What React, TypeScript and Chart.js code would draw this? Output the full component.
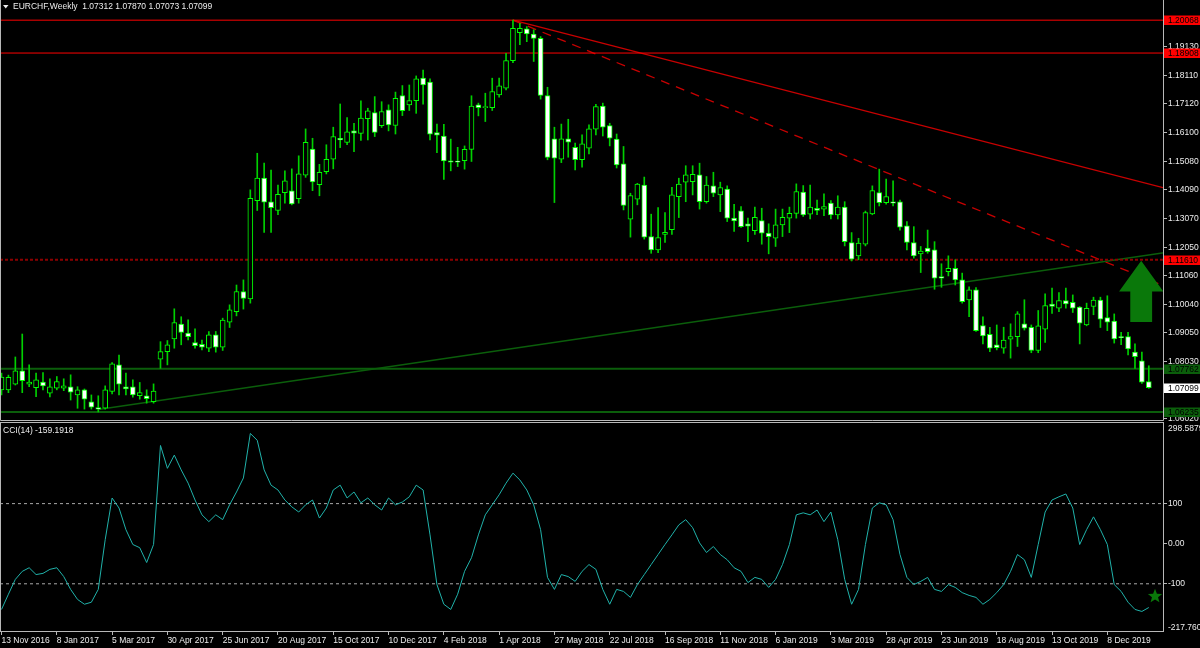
import { useEffect, useRef } from 'react';
import { Chart, registerables } from 'chart.js';

Chart.register(...registerables);

// ---------------- data ----------------
const SYMBOL = 'EURCHF,Weekly';

const OPEN = [
  1.0702, 1.0702, 1.0722, 1.0769, 1.0722, 1.0710, 1.0729, 1.0690, 1.0708, 1.0708,
  1.0713, 1.0684, 1.0702, 1.0660, 1.0639, 1.0637, 1.0696, 1.0790, 1.0713, 1.0713,
  1.0681, 1.0681, 1.0660, 1.0810, 1.0837, 1.0882, 1.0934, 1.0902, 1.0869, 1.0863,
  1.0849, 1.0896, 1.0853, 1.0941, 1.0978, 1.1049, 1.1023, 1.1370, 1.1449, 1.1366,
  1.1335, 1.1398, 1.1404, 1.1377, 1.1460, 1.1552, 1.1426, 1.1472, 1.1516, 1.1590,
  1.1575, 1.1616, 1.1607, 1.1659, 1.1681, 1.1634, 1.1690, 1.1635, 1.1741, 1.1708,
  1.1723, 1.1802, 1.1788, 1.1610, 1.1598, 1.1510, 1.1509, 1.1511, 1.1551, 1.1708,
  1.1698, 1.1698, 1.1743, 1.1767, 1.1864, 1.1963, 1.1976, 1.1958, 1.1943, 1.1741,
  1.1588, 1.1516, 1.1588, 1.1558, 1.1514, 1.1555, 1.1622, 1.1704, 1.1635, 1.1587,
  1.1500, 1.1304, 1.1375, 1.1425, 1.1243, 1.1196, 1.1251, 1.1267, 1.1384, 1.1435,
  1.1437, 1.1461, 1.1366, 1.1422, 1.1390, 1.1411, 1.1308, 1.1334, 1.1288, 1.1264,
  1.1299, 1.1255, 1.1237, 1.1284, 1.1308, 1.1325, 1.1400, 1.1322, 1.1343, 1.1340,
  1.1361, 1.1319, 1.1347, 1.1222, 1.1175, 1.1216, 1.1323, 1.1398, 1.1363, 1.1366,
  1.1366, 1.1281, 1.1222, 1.1182, 1.1202, 1.1196, 1.1102, 1.1119, 1.1131, 1.1090,
  1.1019, 1.1055, 1.0929, 1.0898, 1.0861, 1.0849, 1.0881, 1.0890, 1.0935, 1.0923,
  1.0841, 1.0916, 1.1005, 1.0990, 1.1017, 1.1011, 1.0994, 1.0931, 1.0996, 1.1019,
  1.0957, 1.0945, 1.0890, 1.0890, 1.0835, 1.0804, 1.07312,
];
const HIGH = [
  1.0761, 1.0754, 1.0818, 1.0899, 1.0790, 1.0761, 1.0763, 1.0741, 1.0749, 1.0741,
  1.0755, 1.0713, 1.0705, 1.0684, 1.0681, 1.0716, 1.0798, 1.0825, 1.0761, 1.0737,
  1.0728, 1.0702, 1.0723, 1.0872, 1.0876, 1.0988, 1.0960, 1.0949, 1.0917, 1.0878,
  1.0908, 1.0908, 1.0955, 1.1002, 1.1072, 1.1090, 1.1408, 1.1537, 1.1502, 1.1478,
  1.1425, 1.1475, 1.1482, 1.1528, 1.1623, 1.1590, 1.1498, 1.1567, 1.1629, 1.1711,
  1.1663, 1.1643, 1.1722, 1.1696, 1.1737, 1.1719, 1.1708, 1.1753, 1.1776, 1.1778,
  1.1810, 1.1831, 1.1800, 1.1640, 1.1639, 1.1587, 1.1558, 1.1563, 1.1740, 1.1714,
  1.1749, 1.1802, 1.1802, 1.1890, 1.2007, 1.1996, 1.1984, 1.1973, 1.1949, 1.1770,
  1.1629, 1.1640, 1.1657, 1.1573, 1.1602, 1.1637, 1.1710, 1.1714, 1.1643, 1.1605,
  1.1561, 1.1396, 1.1431, 1.1453, 1.1322, 1.1345, 1.1328, 1.1417, 1.1449, 1.1493,
  1.1493, 1.1502, 1.1455, 1.1470, 1.1435, 1.1422, 1.1357, 1.1349, 1.1308, 1.1347,
  1.1343, 1.1288, 1.1340, 1.1340, 1.1347, 1.1429, 1.1423, 1.1425, 1.1372, 1.1394,
  1.1370, 1.1387, 1.1366, 1.1257, 1.1237, 1.1333, 1.1422, 1.1481, 1.1446, 1.1440,
  1.1372, 1.1296, 1.1278, 1.1208, 1.1266, 1.1225, 1.1147, 1.1175, 1.1161, 1.1114,
  1.1066, 1.1063, 1.0960, 1.0923, 1.0931, 1.0923, 1.0935, 1.0978, 1.1020, 1.0931,
  1.0982, 1.1041, 1.1061, 1.1045, 1.1061, 1.1037, 1.0996, 1.1008, 1.1029, 1.1029,
  1.1034, 1.0970, 1.0905, 1.0905, 1.0864, 1.0835, 1.07870,
];
const LOW = [
  1.0684, 1.0692, 1.0719, 1.0692, 1.0713, 1.0678, 1.0702, 1.0677, 1.0702, 1.0699,
  1.0666, 1.0637, 1.0634, 1.0634, 1.0624, 1.0634, 1.0688, 1.0684, 1.0684, 1.0676,
  1.0669, 1.0655, 1.0655, 1.0778, 1.0790, 1.0849, 1.0861, 1.0878, 1.0849, 1.0843,
  1.0837, 1.0835, 1.0841, 1.0922, 1.0963, 1.0987, 1.1008, 1.1335, 1.1258, 1.1258,
  1.1320, 1.1361, 1.1355, 1.1361, 1.1452, 1.1405, 1.1387, 1.1464, 1.1482, 1.1557,
  1.1567, 1.1543, 1.1582, 1.1584, 1.1596, 1.1628, 1.1616, 1.1605, 1.1670, 1.1688,
  1.1678, 1.1710, 1.1584, 1.1539, 1.1445, 1.1475, 1.1490, 1.1481, 1.1508, 1.1669,
  1.1649, 1.1688, 1.1735, 1.1761, 1.1857, 1.1920, 1.1931, 1.1861, 1.1728, 1.1514,
  1.1363, 1.1504, 1.1523, 1.1478, 1.1488, 1.1535, 1.1602, 1.1598, 1.1563, 1.1485,
  1.1337, 1.1241, 1.1355, 1.1234, 1.1184, 1.1186, 1.1222, 1.1251, 1.1310, 1.1366,
  1.1390, 1.1340, 1.1361, 1.1384, 1.1331, 1.1296, 1.1261, 1.1275, 1.1225, 1.1251,
  1.1216, 1.1182, 1.1208, 1.1243, 1.1257, 1.1308, 1.1314, 1.1305, 1.1320, 1.1317,
  1.1305, 1.1305, 1.1210, 1.1157, 1.1161, 1.1210, 1.1320, 1.1351, 1.1357, 1.1351,
  1.1266, 1.1196, 1.1167, 1.1116, 1.1184, 1.1057, 1.1064, 1.1104, 1.1072, 1.1008,
  1.0960, 1.0908, 1.0864, 1.0837, 1.0843, 1.0831, 1.0814, 1.0855, 1.0913, 1.0833,
  1.0833, 1.0869, 1.0972, 1.0978, 1.0990, 1.0975, 1.0864, 1.0928, 1.0967, 1.0922,
  1.0911, 1.0867, 1.0861, 1.0825, 1.0778, 1.0725, 1.07073,
];
const CLOSE = [
  1.0747, 1.0746, 1.0769, 1.0734, 1.0729, 1.0737, 1.0716, 1.0713, 1.0731, 1.0716,
  1.0694, 1.0702, 1.0669, 1.0641, 1.0634, 1.0702, 1.0794, 1.0722, 1.0705, 1.0684,
  1.0692, 1.0671, 1.0698, 1.0837, 1.0861, 1.0939, 1.0905, 1.0890, 1.0858, 1.0853,
  1.0896, 1.0853, 1.0948, 1.0984, 1.1049, 1.1025, 1.1378, 1.1449, 1.1364, 1.1345,
  1.1392, 1.1440, 1.1358, 1.1464, 1.1576, 1.1436, 1.1470, 1.1516, 1.1596, 1.1584,
  1.1613, 1.1608, 1.1661, 1.1687, 1.1611, 1.1684, 1.1637, 1.1731, 1.1687, 1.1723,
  1.1800, 1.1778, 1.1604, 1.1601, 1.1510, 1.1506, 1.1506, 1.1551, 1.1704, 1.1698,
  1.1702, 1.1755, 1.1775, 1.1864, 1.1978, 1.1978, 1.1958, 1.1942, 1.1741, 1.1522,
  1.1520, 1.1588, 1.1576, 1.1514, 1.1570, 1.1623, 1.1702, 1.1629, 1.1590, 1.1496,
  1.1353, 1.1388, 1.1428, 1.1241, 1.1196, 1.1239, 1.1258, 1.1390, 1.1428, 1.1461,
  1.1463, 1.1366, 1.1425, 1.1396, 1.1416, 1.1308, 1.1298, 1.1278, 1.1280, 1.1311,
  1.1255, 1.1243, 1.1284, 1.1311, 1.1325, 1.1402, 1.1319, 1.1347, 1.1335, 1.1349,
  1.1319, 1.1347, 1.1225, 1.1163, 1.1220, 1.1328, 1.1405, 1.1363, 1.1384, 1.1361,
  1.1276, 1.1222, 1.1175, 1.1192, 1.1190, 1.1096, 1.1096, 1.1131, 1.1090, 1.1013,
  1.1055, 1.0911, 1.0892, 1.0849, 1.0851, 1.0878, 1.0890, 1.0970, 1.0920, 1.0841,
  1.0928, 1.0999, 1.0996, 1.1017, 1.1005, 1.0990, 1.0937, 1.0990, 1.1019, 1.0951,
  1.0941, 1.0882, 1.0886, 1.0846, 1.0819, 1.0729, 1.07099,
];

const CCI = [
  -164, -126, -89, -69, -60, -77, -74, -64, -60, -82,
  -114, -139, -151, -146, -114, 10, 114, 89, 35, -2,
  -10, -47, -2, 245, 188, 221, 184, 151, 109, 72,
  55, 72, 60, 97, 129, 164, 275, 258, 184, 146,
  134, 109, 92, 79, 97, 109, 64, 89, 134, 146,
  114, 129, 102, 114, 97, 84, 114, 97, 104, 117,
  146, 134, 22, -102, -151, -164, -126, -69, -35, 22,
  72, 97, 122, 151, 176, 159, 134, 97, 35, -84,
  -114, -77, -82, -94, -69, -52, -64, -114, -151, -114,
  -119, -134, -102, -77, -52, -27, -2, 22, 47, 60,
  40, 2, -22, -7, -27, -40, -60, -69, -97, -84,
  -89, -109, -89, -52, -2, 72, 77, 72, 84, 55,
  79, 10, -89, -151, -114, -2, 89, 102, 97, 60,
  -27, -84, -102, -94, -84, -114, -119, -102, -109, -122,
  -129, -134, -151, -139, -122, -102, -69, -27, -40, -84,
  -2, 79, 109, 117, 124, 89, -2, 35, 67, 35,
  -2, -102, -119, -146, -164, -169, -159.1918,
];
const CCI_PERIOD = 14;

const X_TICK_LABELS = [
  '13 Nov 2016', '8 Jan 2017', '5 Mar 2017', '30 Apr 2017', '25 Jun 2017', '20 Aug 2017',
  '15 Oct 2017', '10 Dec 2017', '4 Feb 2018', '1 Apr 2018', '27 May 2018', '22 Jul 2018',
  '16 Sep 2018', '11 Nov 2018', '6 Jan 2019', '3 Mar 2019', '28 Apr 2019', '23 Jun 2019',
  '18 Aug 2019', '13 Oct 2019', '8 Dec 2019',
];
const X_TICK_EVERY = 8; // weeks between date labels

const PRICE_TICKS = [
  1.1913, 1.1811, 1.1712, 1.161, 1.1508, 1.1409, 1.1307,
  1.1205, 1.1106, 1.1004, 1.0905, 1.0803, 1.0701, 1.0602,
];
const CCI_TICKS = [100, 0, -100];
const CCI_LEVELS = [100, -100];

const RED_LEVELS = [1.20068, 1.18908];
const DOTTED_LEVEL = 1.1161;
const GREEN_LEVELS = [1.07762, 1.06235];
const SUPPORT_TREND: [number, number][] = [[14, 1.0633], [168.2, 1.1186]];
const RESIST_TREND: [number, number][] = [[74, 1.20068], [168.2, 1.1415]];
const RESIST_TREND_DASHED: [number, number][] = [[74, 1.20068], [168.2, 1.1069]];
const ARROW = { x: 164.9, tip: 1.1158, headBase: 1.1049, bottom: 1.0941, headHalf: 3.2, stemHalf: 1.58 };
const STAR = { x: 166.9, y: -131 };

// ---------------- layout / style ----------------
const W = 1200;
const H = 648;
const AXIS_W = 36;
const MAIN_BOTTOM = 421;
const CCI_TOP = 424;
const CCI_BOTTOM = 631;
const X_MIN = -0.22;
const X_MAX = 168.2;
const PRICE_MIN = 1.0592;
const PRICE_MAX = 1.2078;
const CCI_MIN = -217.7605;
const CCI_MAX = 298.5879;

const FONT_FAMILY = "'Liberation Sans', Arial, sans-serif";
const FONT_SIZE = 8.5;
const CTX_FONT = `${FONT_SIZE}px ${FONT_FAMILY}`;
const TEXT = '#ececec';
const FRAME = '#b8b8b8';
const WICK = '#00d000';
const BODY_EDGE = '#00ff00';
const RED = '#ff0000';
const TREND_RED = '#c80000';
const DOT_RED = '#8c0000';
const DARK_GREEN = '#0b5e0b';
const ARROW_GREEN = '#0a780a';
const CCI_COLOR = '#20b2aa';
const LEVEL_GREY = '#a8a8a8';

const hline = (v: number) => [{ x: X_MIN, y: v }, { x: X_MAX, y: v }];
const seg = (s: [number, number][]) => s.map(([x, y]) => ({ x, y }));
const lineDs = (data: any[], color: string, width: number, dash: number[] = [], order = 5) => ({
  type: 'line' as const,
  data,
  borderColor: color,
  borderWidth: width,
  borderDash: dash,
  pointRadius: 0,
  fill: false,
  tension: 0,
  order,
});

function drawFrame(ctx: CanvasRenderingContext2D, left: number, top: number, right: number, bottom: number) {
  ctx.save();
  ctx.strokeStyle = FRAME;
  ctx.lineWidth = 1;
  ctx.beginPath();
  ctx.moveTo(left + 0.5, top);
  ctx.lineTo(left + 0.5, bottom + 0.5);
  ctx.lineTo(right - 0.5, bottom + 0.5);
  ctx.lineTo(right - 0.5, top);
  ctx.stroke();
  ctx.restore();
}

function priceTag(ctx: CanvasRenderingContext2D, chart: any, value: number, bg: string, fg: string) {
  const y = chart.scales.y.getPixelForValue(value);
  const x0 = chart.chartArea.right;
  ctx.fillStyle = bg;
  ctx.fillRect(x0, Math.round(y) - 4.5, W - x0, 9.5);
  ctx.fillStyle = fg;
  ctx.font = CTX_FONT;
  ctx.textAlign = 'left';
  ctx.textBaseline = 'middle';
  ctx.fillText(value.toFixed(5), x0 + 4, Math.round(y) + 0.5);
}

const mainDecor = {
  id: 'mainDecor',
  afterDatasetsDraw(chart: any) {
    const { ctx } = chart;
    const xs = chart.scales.x;
    const ys = chart.scales.y;
    const cx = xs.getPixelForValue(ARROW.x);
    const hw = xs.getPixelForValue(ARROW.x + ARROW.headHalf) - cx;
    const sw = xs.getPixelForValue(ARROW.x + ARROW.stemHalf) - cx;
    const yt = ys.getPixelForValue(ARROW.tip);
    const yb = ys.getPixelForValue(ARROW.headBase);
    const ye = ys.getPixelForValue(ARROW.bottom);
    ctx.save();
    ctx.fillStyle = ARROW_GREEN;
    ctx.beginPath();
    ctx.moveTo(cx, yt);
    ctx.lineTo(cx + hw, yb);
    ctx.lineTo(cx + sw, yb);
    ctx.lineTo(cx + sw, ye);
    ctx.lineTo(cx - sw, ye);
    ctx.lineTo(cx - sw, yb);
    ctx.lineTo(cx - hw, yb);
    ctx.closePath();
    ctx.fill();
    ctx.restore();
  },
  afterDraw(chart: any) {
    const { ctx, chartArea } = chart;
    drawFrame(ctx, chartArea.left, chartArea.top - 2, chartArea.right, chartArea.bottom - 1);
    ctx.save();
    // header
    ctx.fillStyle = TEXT;
    ctx.beginPath();
    ctx.moveTo(3, 5);
    ctx.lineTo(8.5, 5);
    ctx.lineTo(5.75, 8.5);
    ctx.closePath();
    ctx.fill();
    ctx.font = CTX_FONT;
    ctx.textAlign = 'left';
    ctx.textBaseline = 'middle';
    const last = OPEN.length - 1;
    const vals = [OPEN[last], HIGH[last], LOW[last], CLOSE[last]].map((v) => v.toFixed(5)).join(' ');
    ctx.fillText(`${SYMBOL}  ${vals}`, 13, 7);
    // price tags on the axis
    RED_LEVELS.forEach((v) => priceTag(ctx, chart, v, RED, '#000'));
    priceTag(ctx, chart, DOTTED_LEVEL, RED, '#000');
    GREEN_LEVELS.forEach((v) => priceTag(ctx, chart, v, DARK_GREEN, '#000'));
    priceTag(ctx, chart, CLOSE[last], '#ffffff', '#000');
    ctx.restore();
  },
};

const cciDecor = {
  id: 'cciDecor',
  afterDatasetsDraw(chart: any) {
    const { ctx } = chart;
    const cx = chart.scales.x.getPixelForValue(STAR.x);
    const cy = chart.scales.y.getPixelForValue(STAR.y);
    const R = 7.5;
    const r = 3.2;
    ctx.save();
    ctx.fillStyle = ARROW_GREEN;
    ctx.beginPath();
    for (let k = 0; k < 10; k++) {
      const ang = -Math.PI / 2 + (k * Math.PI) / 5;
      const rad = k % 2 === 0 ? R : r;
      const px = cx + rad * Math.cos(ang);
      const py = cy + rad * Math.sin(ang);
      if (k === 0) ctx.moveTo(px, py);
      else ctx.lineTo(px, py);
    }
    ctx.closePath();
    ctx.fill();
    ctx.restore();
  },
  afterDraw(chart: any) {
    const { ctx, chartArea } = chart;
    ctx.save();
    ctx.strokeStyle = FRAME;
    ctx.lineWidth = 1;
    ctx.strokeRect(chartArea.left + 0.5, chartArea.top - 1.5, chartArea.right - chartArea.left - 1, chartArea.bottom - chartArea.top + 2);
    ctx.fillStyle = TEXT;
    ctx.font = CTX_FONT;
    ctx.textAlign = 'left';
    ctx.textBaseline = 'middle';
    ctx.fillText(`CCI(${CCI_PERIOD}) ${CCI[CCI.length - 1].toFixed(4)}`, 3, chartArea.top + 7);
    ctx.textBaseline = 'top';
    ctx.fillText(CCI_MAX.toFixed(4), chartArea.right + 4, chartArea.top);
    ctx.textBaseline = 'bottom';
    ctx.fillText(CCI_MIN.toFixed(4), chartArea.right + 4, chartArea.bottom + 1);
    ctx.restore();
  },
};

function mainConfig(): any {
  const idx = OPEN.map((_, i) => i);
  return {
    type: 'bar',
    data: {
      datasets: [
        ...RED_LEVELS.map((v) => lineDs(hline(v), RED, 1)),
        lineDs(hline(DOTTED_LEVEL), DOT_RED, 2, [3, 2]),
        ...GREEN_LEVELS.map((v) => lineDs(hline(v), DARK_GREEN, 2)),
        lineDs(seg(SUPPORT_TREND), DARK_GREEN, 1.5),
        lineDs(seg(RESIST_TREND), TREND_RED, 1.3),
        lineDs(seg(RESIST_TREND_DASHED), TREND_RED, 1.3, [9, 7]),
        {
          type: 'bar',
          data: idx.map((i) => ({ x: i, y: [LOW[i], HIGH[i]] })),
          backgroundColor: WICK,
          barThickness: 1,
          grouped: false,
          order: 2,
        },
        {
          type: 'bar',
          data: idx.map((i) => ({ x: i, y: [OPEN[i], CLOSE[i]] })),
          backgroundColor: idx.map((i) => (CLOSE[i] >= OPEN[i] ? '#000000' : '#ffffff')),
          borderColor: BODY_EDGE,
          borderWidth: 1,
          borderSkipped: false,
          barThickness: 5,
          grouped: false,
          order: 1,
        },
      ],
    },
    options: {
      animation: false,
      responsive: false,
      maintainAspectRatio: false,
      events: [],
      layout: { padding: { left: 0, right: 0, top: 0, bottom: H - MAIN_BOTTOM } },
      plugins: { legend: { display: false }, tooltip: { enabled: false } },
      scales: {
        x: { type: 'linear', min: X_MIN, max: X_MAX, display: false, offset: false },
        y: {
          position: 'right',
          min: PRICE_MIN,
          max: PRICE_MAX,
          afterBuildTicks: (s: any) => {
            s.ticks = PRICE_TICKS.map((v) => ({ value: v }));
          },
          afterFit: (s: any) => {
            s.width = AXIS_W;
            s.paddingTop = 0;
            s.paddingBottom = 0;
          },
          ticks: {
            color: TEXT,
            font: { family: FONT_FAMILY, size: FONT_SIZE },
            padding: 1,
            autoSkip: false,
            callback: (v: any) => Number(v).toFixed(5),
          },
          grid: { display: true, drawOnChartArea: false, drawTicks: true, tickLength: 3, color: FRAME },
          border: { display: false },
        },
      },
    },
    plugins: [mainDecor],
  };
}

function cciConfig(): any {
  return {
    type: 'line',
    data: {
      datasets: [
        ...CCI_LEVELS.map((v) => lineDs(hline(v), LEVEL_GREY, 1, [3, 3])),
        lineDs(CCI.map((v, i) => ({ x: i, y: v })), CCI_COLOR, 1, [], 1),
      ],
    },
    options: {
      animation: false,
      responsive: false,
      maintainAspectRatio: false,
      events: [],
      layout: { padding: { left: 0, right: 0, top: CCI_TOP, bottom: 0 } },
      plugins: { legend: { display: false }, tooltip: { enabled: false } },
      scales: {
        x: {
          type: 'linear',
          min: X_MIN,
          max: X_MAX,
          position: 'bottom',
          offset: false,
          afterBuildTicks: (s: any) => {
            s.ticks = X_TICK_LABELS.map((_, k) => ({ value: k * X_TICK_EVERY }));
          },
          afterFit: (s: any) => {
            s.height = H - CCI_BOTTOM;
            s.paddingLeft = 0;
            s.paddingRight = 0;
          },
          ticks: {
            align: 'start',
            maxRotation: 0,
            minRotation: 0,
            autoSkip: false,
            padding: 1,
            color: TEXT,
            font: { family: FONT_FAMILY, size: FONT_SIZE },
            callback: (_v: any, k: number) => X_TICK_LABELS[k],
          },
          grid: { display: true, drawOnChartArea: false, drawTicks: true, tickLength: 4, color: FRAME },
          border: { display: false },
        },
        y: {
          position: 'right',
          min: CCI_MIN,
          max: CCI_MAX,
          afterBuildTicks: (s: any) => {
            s.ticks = CCI_TICKS.map((v) => ({ value: v }));
          },
          afterFit: (s: any) => {
            s.width = AXIS_W;
            s.paddingTop = 0;
            s.paddingBottom = 0;
          },
          ticks: {
            color: TEXT,
            font: { family: FONT_FAMILY, size: FONT_SIZE },
            padding: 1,
            autoSkip: false,
            callback: (v: any) => (Number(v) === 0 ? '0.00' : String(Math.round(Number(v)))),
          },
          grid: { display: true, drawOnChartArea: false, drawTicks: true, tickLength: 3, color: FRAME },
          border: { display: false },
        },
      },
    },
    plugins: [cciDecor],
  };
}

export default function App() {
  const mainRef = useRef<HTMLCanvasElement>(null);
  const cciRef = useRef<HTMLCanvasElement>(null);

  useEffect(() => {
    document.body.style.margin = '0';
    document.body.style.background = '#000';
    const cci = new Chart(cciRef.current as HTMLCanvasElement, cciConfig());
    const main = new Chart(mainRef.current as HTMLCanvasElement, mainConfig());
    return () => {
      main.destroy();
      cci.destroy();
    };
  }, []);

  const canvasStyle: any = { position: 'absolute', left: 0, top: 0, width: W, height: H, display: 'block' };
  return (
    <div style={{ position: 'relative', width: W, height: H, background: '#000', overflow: 'hidden' }}>
      <canvas ref={cciRef} width={W} height={H} style={canvasStyle} />
      <canvas ref={mainRef} width={W} height={H} style={canvasStyle} />
    </div>
  );
}
